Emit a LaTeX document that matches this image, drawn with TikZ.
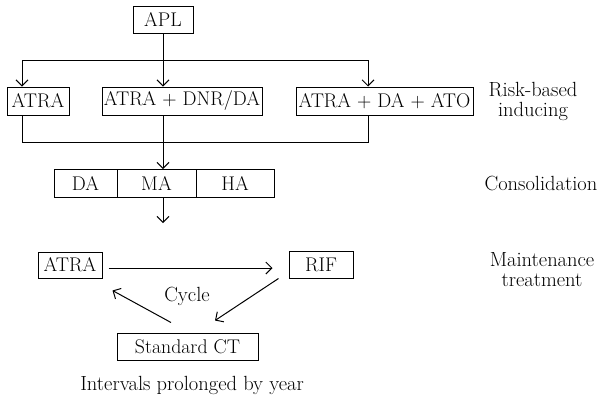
\documentclass[tikz,border=0pt]{standalone}
\usetikzlibrary{arrows.meta}
\begin{document}
\begin{tikzpicture}[x=1pt,y=-1pt,
  every node/.style={font=\fontsize{20.5}{20}\selectfont},
  box/.style={draw,line width=1pt,inner sep=0pt,minimum height=27pt,font=\fontsize{19.8}{20}\selectfont},
  lbl/.style={align=center,inner sep=0pt},
  link/.style={line width=1pt},
  arr/.style={link,-{Straight Barb[length=6pt,width=12pt,line width=1pt]}}]
\useasboundingbox (0,0) rectangle (602,400);
% induction
\node[box,minimum width=60pt] (apl) at (163,19.5) {APL};
\node[box,minimum width=62pt,minimum height=28pt] (atraA) at (38,101) {ATRA};
\node[box,minimum width=160pt,minimum height=28pt] (mid) at (182,101) {ATRA + DNR/DA};
\node[box,minimum width=177pt,minimum height=28pt] (rgt) at (384.5,101) {ATRA + DA + ATO};
\node[lbl] (risk) at (533,101) {Risk-based\\inducing};
% consolidation
\node[box,minimum width=63pt,minimum height=28pt] (da) at (85.5,183) {DA};
\node[box,minimum width=79pt,minimum height=28pt] (ma) at (156.5,183) {MA};
\node[box,minimum width=78pt,minimum height=28pt] (ha) at (235,183) {HA};
\node[lbl] (cons) at (541,183) {Consolidation};
% maintenance
\node[box,minimum width=64pt,minimum height=26pt] (atraB) at (70,265) {ATRA};
\node[box,minimum width=64pt] (rif) at (321,264.5) {RIF};
\node[box,minimum width=141pt] (std) at (187.5,346.5) {Standard CT};
\node[lbl] (cyc) at (187,296) {Cycle};
\node[lbl] (intv) at (192,385) {Intervals prolonged by year};
\node[lbl] (maint) at (542,270) {Maintenance\\treatment};
% coordinates
\coordinate (tl) at (22,60);
\coordinate (tr) at (368,60);
\coordinate (bl) at (22,142);
\coordinate (br) at (368,142);
\coordinate (ms) at (163,115);
\coordinate (mt) at (163,169);
\coordinate (cs) at (163,197);
\coordinate (down) at (163,223);
% connectors
\draw[arr] (apl.south) -- (apl.south |- mid.north);
\draw[link] (tl) -- (tr);
\draw[arr] (tl) -- (tl |- atraA.north);
\draw[arr] (tr) -- (tr |- rgt.north);
\draw[link] (bl |- atraA.south) -- (bl) -- (br) -- (br |- rgt.south);
\draw[arr] (ms) -- (mt);
\draw[arr] (cs) -- (down);
\draw[arr] ([xshift=6pt,yshift=-3pt]atraB.east) -- ([xshift=-16pt,yshift=-3.5pt]rif.west);
\draw[arr] ([xshift=-10pt]rif.south west) -- ([xshift=27.5pt,yshift=12pt]std.north);
\draw[arr] ([xshift=-16.5pt,yshift=10pt]std.north) -- ([xshift=75pt,yshift=-12pt]atraB.south west);
\end{tikzpicture}
\end{document}
